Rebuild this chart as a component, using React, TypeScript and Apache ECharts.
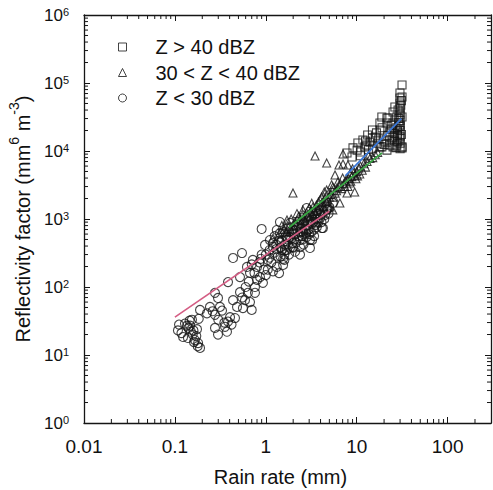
import React, { useEffect, useRef } from 'react';
import * as echarts from 'echarts';

const seriesNames = ['Z > 40 dBZ', '30 < Z < 40 dBZ', 'Z < 30 dBZ'];
const xTickLabels = ['0.01', '0.1', '1', '10', '100'];
const yTickExponents = ['0', '1', '2', '3', '4', '5', '6'];
const xTitle = 'Rain rate (mm)';

// Z > 40 dBZ  [rain rate, reflectivity]
const squares: number[][] = [
  [31.5, 93500], [29.9, 71300], [29.9, 60100], [29.9, 50800], [26.3, 44400], [29.9, 42900],
  [25.1, 37500], [29.9, 37500], [18.9, 31600], [21.5, 30600], [27.6, 31600], [31.5, 31600],
  [18.0, 25800], [21.5, 25800], [25.1, 25800], [29.9, 24100], [14.9, 20400], [18.0, 20400],
  [23.2, 19000], [28.3, 19000], [13.2, 17200], [11.7, 14500], [14.9, 15500], [25.1, 16100],
  [29.9, 15500], [10.3, 13100], [12.9, 12200], [9.1, 11100], [23.2, 12200], [27.6, 12200],
  [31.5, 11100], [28.3, 13600], [7.82, 9350], [11.0, 9670], [18.0, 11500], [21.5, 10300],
  [10.1, 10300], [12.3, 11500], [8.88, 8160], [31.5, 62200], [31.5, 11500], [25.1, 11500],
  [18.9, 11500], [27, 22000], [30, 28000], [30, 20000], [28, 17000], [26, 14000], [30, 13000],
  [31, 17500], [24, 21000], [22, 17000], [20, 14000], [17, 13000], [16, 16000], [19, 22000],
  [30, 34000], [31, 55000], [29, 26000], [15, 11000], [13.5, 10500], [11, 8500], [22.1, 30600],
  [14, 13500], [30, 23000], [29, 30000], [30, 16500], [28, 21000], [26, 18000], [23, 14500],
  [20, 12500], [17.5, 15000], [30, 10800], [27, 11200], [24, 24000], [16.5, 18500],
  [12.5, 14000], [28.5, 40000], [30.5, 47000],
];

// 30 < Z < 40 dBZ
const triangles: number[][] = [
  [3.48, 8440], [4.67, 6660], [7.07, 9040], [6.38, 6220], [7.07, 6440], [8.0, 6220],
  [1.99, 2410], [5.77, 4440], [5.46, 2960], [8.44, 3380], [9.5, 2500], [7.82, 2410],
  [4.67, 2670], [3.95, 1900], [3.3, 1500], [5.08, 1500], [6.53, 1720], [3.06, 1070],
  [2.38, 967], [4.25, 1225], [5.46, 1360], [3.64, 874], [1.99, 817], [1.71, 967], [2.56, 1360],
  [1.2, 520], [1.4, 600], [1.6, 700], [1.8, 780], [2.1, 900], [2.3, 1100], [2.6, 1000],
  [2.8, 1250], [3.1, 1300], [3.3, 1150], [3.6, 1600], [3.9, 1500], [4.2, 1750], [4.5, 2000],
  [4.8, 1900], [5.2, 2300], [5.6, 2100], [6.0, 2600], [6.4, 3000], [6.8, 2800], [7.2, 3300],
  [7.6, 3600], [8.2, 3900], [8.8, 4200], [9.3, 4800], [10, 5000], [10.5, 5600], [11, 6000],
  [12, 6500], [13, 7000], [14, 7800], [15, 8000], [16, 8800], [11.5, 5200], [9.0, 5500],
  [8.5, 4600], [7.0, 4000], [6.2, 3500], [5.3, 3200], [4.4, 2500], [9.8, 3900], [12.5, 5800],
  [13.5, 8500], [17, 9500], [8.0, 3000], [10.8, 4600],
  [1.5, 800], [1.7, 650], [1.9, 1000], [2.0, 720], [2.2, 1200], [2.4, 850], [2.5, 1150],
  [2.7, 950], [2.9, 1100], [3.0, 1450], [3.2, 1700], [3.4, 1300], [3.5, 1200], [3.7, 1400],
  [3.8, 1800], [4.0, 1600], [4.1, 2100], [4.3, 1500], [4.6, 1800], [4.7, 2300], [5.0, 2100],
  [5.4, 2600], [5.8, 2400], [6.1, 2900], [6.6, 3300], [7.4, 3000], [7.8, 3900], [8.6, 3600],
  [9.6, 4400], [10.2, 4300],
];

// Z < 30 dBZ
const circles: number[][] = [
  [0.111, 28], [0.108, 23], [0.129, 29], [0.136, 27], [0.147, 27], [0.15, 22], [0.123, 18.4],
  [0.139, 17.8], [0.157, 20], [0.166, 16.6], [0.18, 15], [0.189, 12.7], [0.154, 33], [0.175, 24],
  [0.118, 21], [0.141, 25], [0.16, 23], [0.172, 19], [0.178, 13.5], [0.162, 15.5], [0.145, 32],
  [0.183, 34],
  [0.276, 82], [0.298, 69], [0.243, 51], [0.225, 41], [0.189, 46], [0.276, 39], [0.313, 51],
  [0.276, 25], [0.298, 20], [0.356, 26], [0.384, 31], [0.404, 36], [0.458, 35], [0.374, 22],
  [0.26, 44], [0.3, 33], [0.33, 45], [0.35, 30], [0.42, 28],
  [0.384, 118], [0.436, 267], [0.547, 316], [0.52, 140], [0.436, 64], [0.52, 84], [0.59, 64],
  [0.635, 82], [0.7, 46], [0.56, 49], [0.482, 51], [0.67, 60], [0.76, 82], [0.6, 100],
  [0.65, 120], [0.55, 70],
  [0.9, 713], [0.98, 415], [0.72, 250], [0.8, 197], [0.67, 161], [0.863, 140], [0.93, 115],
  [0.8, 127], [0.62, 197], [0.76, 100], [0.85, 230], [0.95, 180], [0.9, 300], [0.75, 160],
  [0.7, 215], [1.0, 150], [0.88, 260],
  [1.32, 197], [1.55, 211], [1.63, 350], [1.2, 387], [1.43, 622], [1.7, 543], [1.98, 444],
  [2.38, 491], [3.06, 491], [2.56, 644], [2.19, 763], [1.85, 874], [1.43, 903], [2.38, 967],
  [3.64, 763], [4.25, 737], [3.95, 1034], [3.3, 1225], [4.67, 1360], [5.46, 1720], [4.67, 1720],
  [2.81, 1450], [1.32, 689], [1.11, 491], [1.85, 543], [2.81, 689], [4.14, 737], [3.23, 491],
  [2.38, 387], [1.7, 350], [3.06, 375], [1.2, 444], [1.98, 387], [1.55, 260], [2.38, 300],
  [1.1, 270], [1.6, 250],
  [1.0, 300], [1.05, 250], [1.1, 350], [1.15, 230], [1.25, 320], [1.3, 420], [1.35, 280],
  [1.45, 380], [1.5, 480], [1.6, 300], [1.65, 560], [1.75, 420], [1.8, 640], [1.9, 520],
  [2.0, 380], [2.1, 600], [2.2, 700], [2.3, 560], [2.5, 820], [2.6, 420], [2.7, 700],
  [2.9, 900], [3.0, 600], [3.2, 850], [3.4, 700], [3.5, 1000], [3.8, 900], [4.0, 1150],
  [4.4, 1000], [4.9, 1200], [1.2, 170], [1.4, 160], [1.05, 180], [2.0, 700], [2.5, 560],
  [3.0, 1100], [1.7, 720], [2.8, 540], [3.6, 1300], [5.0, 1500],
  [1.25, 560], [1.4, 480], [1.5, 350], [1.55, 640], [1.65, 420], [1.75, 500], [1.85, 380],
  [1.95, 620], [2.05, 500], [2.15, 450], [2.25, 820], [2.4, 640], [2.45, 720], [2.55, 500],
  [2.65, 900], [2.75, 620], [2.85, 800], [2.95, 700], [3.1, 950], [3.15, 640], [3.3, 900],
  [3.45, 1100], [3.55, 820], [3.7, 1000], [3.85, 1200], [4.1, 900], [4.3, 1300], [4.5, 1150],
  [4.8, 1400], [1.3, 360], [1.45, 280], [1.6, 420], [1.8, 300], [2.1, 330], [2.6, 600],
  [3.4, 560],
];

// power-law fit lines (end points)
const fitHigh: number[][] = [[7.5, 4300], [31, 30000]];
const fitMid: number[][] = [[1.8, 750], [19, 9400]];
const fitLow: number[][] = [[0.1, 36], [5, 1300]];

const X_MIN = 0.01;
const X_MAX = 300;
const Y_MIN = 1;
const Y_MAX = 1e6;

const FONT = 'Liberation Sans, Arial, Helvetica, sans-serif';
const INK = '#151515';

function minorTicks(decades: number[], limit: number): number[] {
  const out: number[] = [];
  decades.forEach((d) => {
    for (let m = 2; m <= 9; m++) {
      const v = m * d;
      if (v < limit) out.push(v);
    }
  });
  return out;
}

export default function App() {
  const ref = useRef<HTMLDivElement>(null);

  useEffect(() => {
    document.body.style.margin = '0';
    if (!ref.current) return;
    const chart = echarts.init(ref.current, undefined, { renderer: 'svg' });

    const xMinor = minorTicks([0.01, 0.1, 1, 10, 100], X_MAX);
    const yMinor = minorTicks([1, 10, 100, 1e3, 1e4, 1e5], Y_MAX);
    const tickData: number[][] = [
      ...xMinor.map((v) => [v, 10, 0]),
      ...yMinor.map((v) => [1, v, 1]),
    ];

    const isPow = (v: number) => {
      const e = Math.log10(v);
      const r = Math.round(e);
      return Math.abs(e - r) < 1e-6 ? r : null;
    };

    const markerStyle = {
      color: 'rgba(0,0,0,0)',
      borderColor: INK,
      borderWidth: 1.1,
    };

    const axisCommon = {
      axisLine: { show: true, lineStyle: { color: INK, width: 1.3 } },
      axisTick: { show: true, inside: true, length: 6, lineStyle: { color: INK, width: 1 } },
      splitLine: { show: false },
      minorTick: { show: false },
    };

    chart.setOption({
      animation: false,
      backgroundColor: '#fff',
      textStyle: { fontFamily: FONT },
      grid: {
        left: 84,
        right: 2,
        top: 15,
        bottom: 67,
        containLabel: false,
        outerBoundsMode: 'none',
      },
      legend: {
        data: seriesNames,
        orient: 'vertical',
        left: 113,
        top: 32,
        itemWidth: 8,
        itemHeight: 8,
        itemGap: 5.5,
        itemStyle: { color: 'rgba(0,0,0,0)', borderColor: INK, borderWidth: 1 },
        textStyle: {
          fontSize: 20,
          lineHeight: 20,
          color: '#111',
          fontFamily: FONT,
          padding: [0, 0, 0, 24],
        },
        selectedMode: false,
      },
      xAxis: [
        {
          type: 'log',
          logBase: 10,
          min: X_MIN,
          max: X_MAX,
          position: 'bottom',
          name: xTitle,
          nameLocation: 'middle',
          nameGap: 44,
          nameTextStyle: {
            fontSize: 20,
            color: '#111',
            fontFamily: FONT,
            padding: [0, 14, 0, 0],
          },
          ...axisCommon,
          axisLabel: {
            margin: 14,
            fontSize: 19,
            color: '#111',
            fontFamily: FONT,
            formatter: (v: number) => {
              const r = isPow(v);
              if (r === null) return '';
              return xTickLabels[r + 2] ?? '';
            },
          },
        },
        {
          type: 'log',
          logBase: 10,
          min: X_MIN,
          max: X_MAX,
          position: 'top',
          ...axisCommon,
          axisLabel: { show: false },
        },
      ],
      yAxis: [
        {
          type: 'log',
          logBase: 10,
          min: Y_MIN,
          max: Y_MAX,
          splitNumber: 6,
          position: 'left',
          name: '{t|Reflectivity factor (mm}{s|6}{t| m}{s|-3}{t|)}',
          nameLocation: 'middle',
          nameRotate: 90,
          nameGap: 32,
          nameTextStyle: {
            rich: {
              t: { fontSize: 20, lineHeight: 32, color: '#111', fontFamily: FONT },
              s: { fontSize: 14, lineHeight: 14, verticalAlign: 'top', color: '#111', fontFamily: FONT },
            },
          },
          ...axisCommon,
          axisLabel: {
            margin: 15,
            formatter: (v: number) => {
              const r = isPow(v);
              if (r === null) return '';
              return `{b|10}{s|${yTickExponents[r] ?? r}}`;
            },
            rich: {
              b: { fontSize: 17, lineHeight: 17, color: '#111', fontFamily: FONT },
              s: { fontSize: 11, lineHeight: 11, verticalAlign: 'top', color: '#111', fontFamily: FONT },
            },
          },
        },
        {
          type: 'log',
          logBase: 10,
          min: Y_MIN,
          max: Y_MAX,
          splitNumber: 6,
          position: 'right',
          ...axisCommon,
          axisLabel: { show: false },
        },
      ],
      series: [
        {
          name: seriesNames[0],
          type: 'scatter',
          symbol: 'rect',
          symbolSize: 8,
          data: squares,
          itemStyle: markerStyle,
          emphasis: { disabled: true },
          z: 2,
        },
        {
          name: seriesNames[1],
          type: 'scatter',
          symbol: 'triangle',
          symbolSize: 8,
          data: triangles,
          itemStyle: markerStyle,
          emphasis: { disabled: true },
          z: 2,
        },
        {
          name: seriesNames[2],
          type: 'scatter',
          symbol: 'circle',
          symbolSize: 9,
          data: circles,
          itemStyle: markerStyle,
          emphasis: { disabled: true },
          z: 2,
        },
        {
          name: 'fitHigh',
          type: 'line',
          data: fitHigh,
          symbol: 'none',
          lineStyle: { color: '#3b78d8', width: 1.8 },
          z: 4,
          silent: true,
        },
        {
          name: 'fitMid',
          type: 'line',
          data: fitMid,
          symbol: 'none',
          lineStyle: { color: '#3aa844', width: 1.8 },
          z: 4,
          silent: true,
        },
        {
          name: 'fitLow',
          type: 'line',
          data: fitLow,
          symbol: 'none',
          lineStyle: { color: '#d45d84', width: 1.6 },
          z: 4,
          silent: true,
        },
        {
          name: 'minorTicks',
          type: 'custom',
          silent: true,
          clip: false,
          data: tickData,
          z: 5,
          renderItem: (params: any, api: any) => {
            const cs = params.coordSys;
            const kind = api.value(2);
            const style = { stroke: INK, lineWidth: 1 };
            const len = 4;
            if (kind === 0) {
              const px = api.coord([api.value(0), 10])[0];
              const yb = cs.y + cs.height;
              return {
                type: 'group',
                children: [
                  { type: 'line', shape: { x1: px, y1: yb, x2: px, y2: yb - len }, style },
                  { type: 'line', shape: { x1: px, y1: cs.y, x2: px, y2: cs.y + len }, style },
                ],
              };
            }
            const py = api.coord([1, api.value(1)])[1];
            const xr = cs.x + cs.width;
            return {
              type: 'group',
              children: [
                { type: 'line', shape: { x1: cs.x, y1: py, x2: cs.x + len, y2: py }, style },
                { type: 'line', shape: { x1: xr, y1: py, x2: xr - len, y2: py }, style },
              ],
            };
          },
        },
      ],
    });

    return () => {
      chart.dispose();
    };
  }, []);

  return <div ref={ref} style={{ width: 493, height: 490 }} />;
}
